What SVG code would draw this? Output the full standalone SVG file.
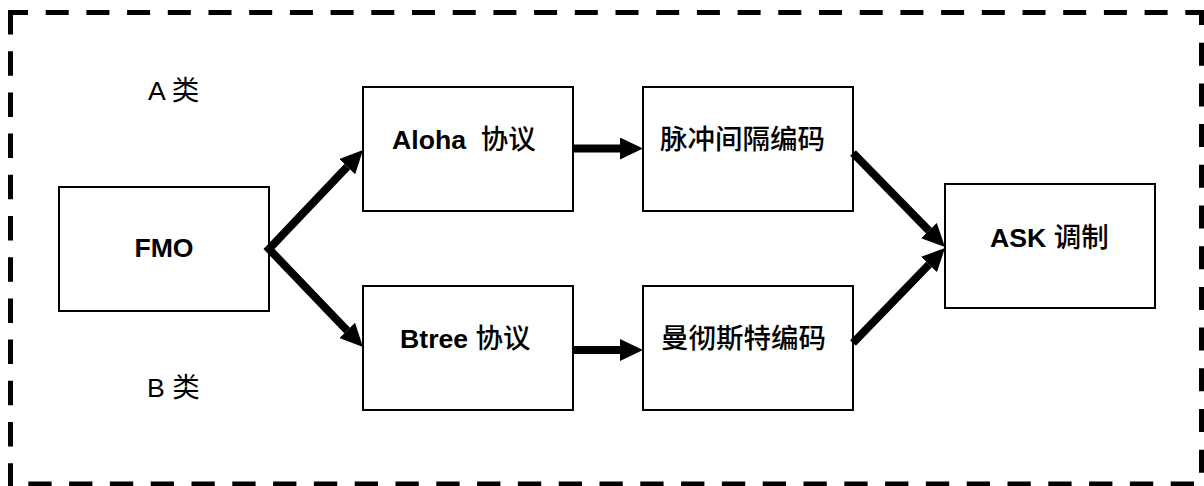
<svg xmlns="http://www.w3.org/2000/svg" width="1204" height="486" viewBox="0 0 1204 486">
<style>
.box{fill:#fff;stroke:#000;stroke-width:2}
.lbl{font-family:"Liberation Sans","Noto Sans CJK SC",sans-serif;font-size:26.67px;font-weight:bold;fill:#000;white-space:pre}
.cls{font-family:"Liberation Sans","Noto Sans CJK SC",sans-serif;font-size:26.67px;fill:#000}
.cjk{font-family:"Noto Sans CJK SC",sans-serif;font-weight:500;font-size:27.5px}
.arr{fill:none;stroke:#000;stroke-width:8}
.dash{fill:none;stroke:#000;stroke-width:5}
</style>
<defs>
<marker id="ah" viewBox="0 0 23 22" refX="0" refY="11" markerWidth="23" markerHeight="22" markerUnits="userSpaceOnUse" orient="auto-start-reverse">
<path d="M0,0 L23,11 L0,22 z" fill="#000"/>
</marker>
</defs>
<rect width="1204" height="486" fill="#fff"/>
<g id="frame">
<line class="dash" x1="8" y1="12.5" x2="1204" y2="12.5" stroke-dasharray="23 17.7" stroke-dashoffset="3"/>
<line class="dash" x1="10.5" y1="10" x2="10.5" y2="486" stroke-dasharray="24.5 16.7"/>
<line class="dash" x1="1201.5" y1="10" x2="1201.5" y2="486" stroke-dasharray="23 17.7" stroke-dashoffset="8"/>
<line class="dash" x1="28.3" y1="484" x2="1204" y2="484" stroke-dasharray="23.3 17.5"/>
</g>
<g id="label-a"><text class="cls" x="148" y="100">A <tspan class="cjk" style="font-weight:normal">类</tspan></text></g>
<g id="label-b"><text class="cls" x="147" y="397">B <tspan class="cjk" style="font-weight:normal">类</tspan></text></g>
<g id="fmo">
<rect class="box" x="59" y="187" width="210" height="124"/>
<text class="lbl" x="164" y="257" text-anchor="middle">FMO</text>
</g>
<g id="aloha">
<rect class="box" x="363" y="87" width="210" height="124"/>
<text class="lbl" x="392" y="148.5">Aloha  <tspan class="cjk">协议</tspan></text>
</g>
<g id="btree">
<rect class="box" x="363" y="286" width="210" height="124"/>
<text class="lbl" x="400" y="347.5">Btree <tspan class="cjk">协议</tspan></text>
</g>
<g id="pulse">
<rect class="box" x="643" y="87" width="210" height="124"/>
<text class="lbl cjk" x="660" y="148.5">脉冲间隔编码</text>
</g>
<g id="manchester">
<rect class="box" x="643" y="286" width="210" height="124"/>
<text class="lbl cjk" x="661" y="347.5">曼彻斯特编码</text>
</g>
<g id="ask">
<rect class="box" x="945" y="184" width="210" height="124"/>
<text class="lbl" x="990" y="247">ASK <tspan class="cjk">调制</tspan></text>
</g>
<g id="connectors">
<path class="arr" d="M347.2,166.7 L269,249 L347.1,330.4" marker-start="url(#ah)" marker-end="url(#ah)" stroke-miterlimit="4"/>
<line class="arr" x1="573" y1="148.5" x2="620" y2="148.5" marker-end="url(#ah)"/>
<line class="arr" x1="573" y1="350" x2="620" y2="350" marker-end="url(#ah)"/>
<line class="arr" x1="853" y1="153" x2="928.9" y2="230.6" marker-end="url(#ah)"/>
<line class="arr" x1="853" y1="343" x2="929" y2="264.5" marker-end="url(#ah)"/>
</g>
</svg>
